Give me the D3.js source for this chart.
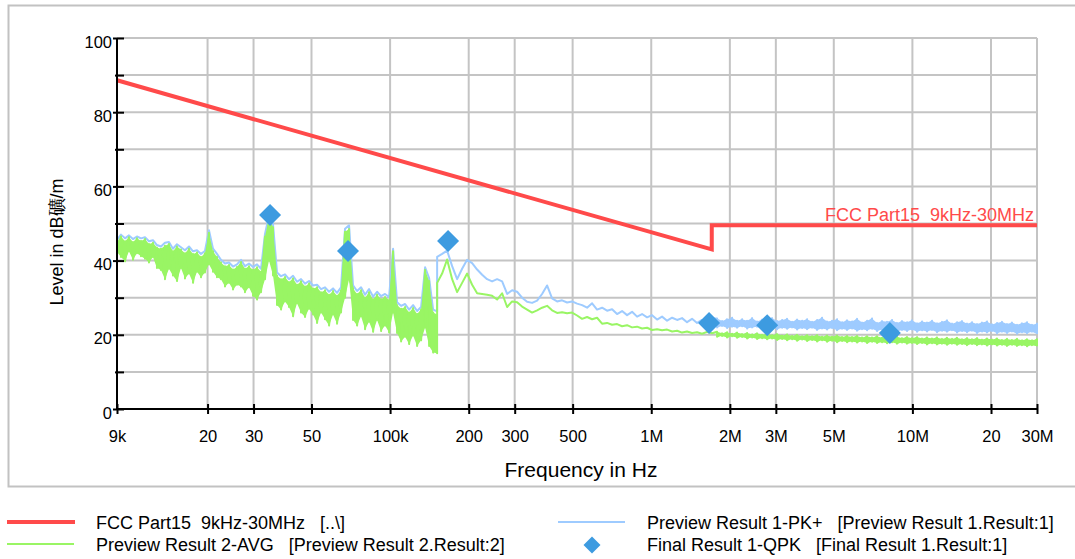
<!DOCTYPE html>
<html>
<head>
<meta charset="utf-8">
<script src="https://cdnjs.cloudflare.com/ajax/libs/d3/7.8.5/d3.min.js"></script>
<style>
  html, body { margin: 0; padding: 0; background: #fff; }
  svg { display: block; font-family: "Liberation Sans", Arial, sans-serif; }
  text { white-space: pre; }
</style>
</head>
<body>
<svg id="chart" width="1075" height="559"></svg>
<script>
// ---- data (frequencies in kHz, levels in dBuV/m) ----

const xTickKHz = [9, 20, 30, 50, 100, 200, 300, 500, 1000, 2000, 3000, 5000, 10000, 20000, 30000];
const xTickLabels = ["9k", "20", "30", "50", "100k", "200", "300", "500", "1M", "2M", "3M", "5M", "10M", "20", "30M"];
const yMajor = [0, 20, 40, 60, 80, 100];
const yMinor = [10, 30, 50, 70, 90];

// limit line FCC Part15 9kHz-30MHz
const limitKHz = [9, 1705, 1705, 30000];
const limitLevel = [88.6, 43.0, 49.5, 49.5];

// 9k - 150k: dense noisy sweep, max / min per bin
const noiseKHz = [
  9.00, 9.32, 9.66, 10.00, 10.36, 10.73, 11.12, 11.52, 11.93, 12.36,
  12.80, 13.26, 13.74, 14.23, 14.74, 15.27, 15.82, 16.39, 16.98, 17.59,
  18.22, 18.87, 19.55, 20.25, 20.98, 21.73, 22.51, 23.32, 24.16, 25.03,
  25.93, 26.86, 27.82, 28.82, 29.86, 30.93, 32.04, 33.19, 34.38, 35.62,
  36.90, 38.22, 39.59, 41.01, 42.49, 44.01, 45.59, 47.23, 48.93, 50.69,
  52.51, 54.39, 56.34, 58.37, 60.46, 62.63, 64.88, 67.21, 69.63, 72.13,
  74.72, 77.40, 80.18, 83.06, 86.05, 89.14, 92.34, 95.66, 99.10, 102.66,
  106.35, 110.17, 114.13, 118.23, 122.48, 126.88, 131.44, 136.16, 141.05, 146.12,
  151.37
];
const avgNoiseHi = [
  45.0, 46.5, 45.2, 46.3, 45.0, 46.0, 45.3, 45.8, 44.5, 44.8,
  43.5, 43.2, 44.0, 44.5, 42.5, 43.8, 43.0, 42.0, 43.2, 41.8,
  42.2, 41.0, 42.0, 47.5, 42.5, 41.0, 39.5, 38.5, 38.8, 37.6,
  38.3, 39.6, 37.8, 38.5, 37.5, 38.2, 37.0, 46.5, 51.5, 49.0,
  36.0, 35.0, 35.6, 34.2, 35.2, 33.5, 34.4, 33.0, 33.8, 32.5,
  32.8, 31.5, 32.0, 30.8, 31.8, 30.5, 32.0, 47.8, 48.5, 32.5,
  31.0, 32.0, 30.0, 31.5, 29.5, 30.8, 29.6, 30.2, 29.4, 42.5,
  28.0, 27.0, 27.5, 26.0, 27.2, 25.6, 26.8, 37.5, 34.5, 26.0,
  25.5
];
const avgNoiseLo = [
  42.3, 41.0, 39.8, 42.5, 40.2, 42.0, 41.2, 40.5, 39.5, 41.0,
  38.0, 37.5, 35.0, 37.8, 36.0, 34.5, 38.0, 35.2, 36.5, 34.0,
  37.0, 35.5, 36.8, 39.0, 37.0, 35.5, 35.0, 33.0, 34.0, 32.2,
  33.5, 33.0, 31.5, 32.8, 30.5, 29.5, 31.5, 35.0, 40.0, 36.0,
  28.0, 26.8, 29.0, 27.5, 25.0, 28.5, 26.0, 24.8, 27.0, 25.5,
  23.2, 26.0, 24.2, 22.5, 25.5, 23.0, 26.0, 30.0, 35.0, 24.0,
  22.5, 25.0, 21.5, 23.5, 20.8, 24.0, 21.0, 22.5, 20.6, 26.0,
  20.5, 18.2, 19.5, 17.5, 19.8, 17.0, 18.5, 22.0, 17.0, 15.2,
  15.0
];
const pkNoiseTop = [
  45.6, 47.0, 46.0, 46.8, 45.8, 46.5, 46.0, 46.3, 45.2, 45.5,
  44.2, 43.8, 44.8, 45.0, 43.2, 44.4, 43.6, 42.8, 43.8, 42.5,
  42.8, 41.8, 42.6, 48.2, 43.2, 41.8, 40.2, 39.2, 39.5, 38.4,
  39.0, 40.2, 38.5, 39.2, 38.3, 39.0, 37.8, 47.2, 52.2, 49.8,
  36.8, 35.8, 36.3, 35.0, 35.9, 34.3, 35.0, 33.8, 34.5, 33.3,
  33.5, 32.3, 32.8, 31.6, 32.5, 31.3, 32.8, 48.6, 49.5, 33.3,
  31.8, 32.8, 30.8, 32.3, 30.3, 31.6, 30.4, 31.0, 30.2, 43.2,
  28.8, 27.8, 28.3, 26.8, 28.0, 26.4, 27.5, 38.2, 35.3, 26.8,
  26.3
];

// 150k - 1.7M: smoother sweep
const sweepKHz = [
  151.4, 158.2, 165.3, 172.8, 180.6, 188.7, 197.2, 206.1, 215.4, 225.1,
  235.2, 245.8, 256.9, 268.5, 280.6, 293.2, 306.4, 320.2, 334.6, 349.7,
  365.5, 381.9, 399.1, 417.1, 435.9, 455.6, 476.1, 497.5, 520.0, 543.4,
  567.9, 593.5, 620.2, 648.2, 677.4, 707.9, 739.8, 773.1, 808.0, 844.4,
  882.4, 922.2, 963.8, 1007, 1053, 1100, 1150, 1202, 1256, 1312,
  1371, 1433, 1498, 1565, 1636, 1710
];
const pkSweep = [
  41.0, 41.8, 42.7, 38.5, 35.0, 37.8, 40.2, 39.3, 37.6, 36.2,
  35.0, 34.4, 35.0, 34.4, 31.0, 32.0, 31.6, 30.0, 28.9, 28.6,
  29.2, 31.0, 33.3, 29.8, 29.0, 29.3, 28.7, 29.0, 28.4, 28.0,
  27.3, 28.5, 26.8, 27.3, 26.5, 26.9, 25.6, 26.4, 25.3, 26.2,
  24.9, 25.6, 24.7, 25.3, 24.1, 24.9, 23.8, 24.6, 24.0, 24.5,
  23.4, 24.3, 23.2, 24.0, 23.3, 24.4
];
const avgSweep = [
  34.0, 36.5, 40.3, 35.0, 31.5, 34.0, 36.5, 33.5, 31.2, 31.0,
  30.8, 30.5, 29.5, 31.2, 27.5, 29.0, 28.8, 27.6, 26.8, 26.0,
  26.6, 27.3, 27.8, 26.6, 25.9, 26.1, 25.8, 26.0, 25.2, 24.3,
  24.8, 24.2, 24.6, 23.0, 23.2, 22.7, 22.9, 22.3, 22.6, 22.0,
  22.2, 21.7, 21.9, 21.3, 21.5, 21.2, 21.4, 20.9, 21.1, 20.6,
  20.9, 20.5, 20.7, 20.3, 20.8, 20.4
];

// 1.7M - 30M: noisy tail, max / min per bin
const tailKHz = [
  1787, 1867, 1951, 2039, 2131, 2227, 2328, 2433, 2542, 2657,
  2776, 2901, 3032, 3169, 3311, 3461, 3617, 3780, 3950, 4128,
  4314, 4508, 4711, 4923, 5145, 5377, 5619, 5872, 6137, 6413,
  6702, 7004, 7320, 7650, 7994, 8354, 8731, 9124, 9535, 9965,
  10414, 10883, 11373, 11886, 12421, 12981, 13566, 14177, 14816, 15484,
  16181, 16910, 17673, 18469, 19301, 20171, 21080, 22030, 23022, 24060,
  25144, 26277, 27461, 28698, 29992
];
const pkTailHi = [
  24.4, 23.7, 24.2, 24.6, 23.8, 24.2, 23.8, 24.5, 23.6, 24.1,
  23.9, 24.5, 23.7, 24.0, 24.3, 23.5, 24.1, 23.8, 24.2, 23.5,
  24.0, 24.6, 23.6, 23.8, 24.2, 23.4, 23.9, 23.6, 24.3, 23.3,
  23.8, 24.4, 23.2, 23.7, 23.5, 24.0, 23.2, 23.7, 23.4, 23.9,
  23.1, 23.6, 23.3, 23.8, 23.1, 23.5, 23.9, 23.0, 23.4, 23.7,
  23.0, 23.4, 22.9, 23.3, 23.6, 22.8, 23.2, 23.5, 22.9, 23.3,
  22.7, 23.1, 23.4, 22.7, 23.0
];
const pkTailLo = [
  22.0, 22.4, 21.8, 22.2, 21.9, 22.3, 21.7, 22.0, 22.2, 21.6,
  21.9, 22.1, 21.5, 21.9, 21.6, 22.0, 21.4, 21.8, 21.5, 21.9,
  21.3, 21.7, 21.4, 21.8, 21.2, 21.6, 21.3, 21.7, 21.1, 21.5,
  21.2, 21.6, 21.0, 21.4, 21.1, 21.5, 20.9, 21.3, 21.0, 21.4,
  20.8, 21.2, 20.9, 21.3, 20.7, 21.1, 20.8, 21.2, 20.6, 21.0,
  20.7, 21.1, 20.5, 20.9, 20.6, 21.0, 20.4, 20.8, 20.5, 20.9,
  20.3, 20.7, 20.4, 20.8, 20.2
];
const avgTailHi = [
  20.8, 20.4, 20.7, 20.3, 20.6, 20.2, 20.5, 20.1, 20.4, 20.0,
  20.3, 19.9, 20.2, 19.8, 20.1, 19.7, 20.0, 19.6, 19.9, 19.6,
  19.9, 19.5, 19.8, 19.5, 19.8, 19.4, 19.7, 19.4, 19.7, 19.3,
  19.6, 19.3, 19.6, 19.2, 19.5, 19.2, 19.5, 19.1, 19.4, 19.1,
  19.4, 19.0, 19.3, 19.0, 19.3, 18.9, 19.2, 18.9, 19.2, 18.8,
  19.1, 18.8, 19.1, 18.7, 19.0, 18.7, 19.0, 18.6, 18.9, 18.6,
  18.9, 18.5, 18.8, 18.5, 18.8
];
const avgTailLo = [
  19.5, 19.7, 19.3, 19.6, 19.2, 19.4, 19.0, 19.3, 18.9, 19.1,
  18.8, 19.0, 18.6, 18.9, 18.5, 18.8, 18.4, 18.7, 18.3, 18.6,
  18.2, 18.5, 18.1, 18.4, 18.0, 18.3, 18.0, 18.2, 17.9, 18.2,
  17.8, 18.1, 17.8, 18.0, 17.7, 18.0, 17.6, 17.9, 17.6, 17.8,
  17.5, 17.8, 17.4, 17.7, 17.4, 17.6, 17.3, 17.6, 17.3, 17.5,
  17.2, 17.5, 17.2, 17.4, 17.1, 17.4, 17.1, 17.3, 17.0, 17.3,
  17.0, 17.2, 16.9, 17.2, 16.9
];

// final QPK results
const qpkKHz = [34.7, 69.0, 166.7, 1665, 2780, 8200];
const qpkLevel = [52.3, 42.6, 45.3, 23.2, 22.6, 20.5];

// ---- chart ----

const COLORS = {
  limit: '#ff4a4a',
  pk: '#9ecbff',
  avg: '#99f564',
  qpk: '#3d9be0',
  grid: '#c4c4c4'
};
const FONT = '"Liberation Sans", Arial, sans-serif';

const svg = d3.select('#chart');
const x = d3.scaleLog().domain([9, 30000]).range([117, 1037]);
const y = d3.scaleLinear().domain([0, 100]).range([409, 38]);

// outer frame
svg.append('rect')
  .attr('x', 8.5).attr('y', 5.5)
  .attr('width', 1080).attr('height', 481)
  .attr('fill', 'none')
  .attr('stroke', '#c2c2c2')
  .attr('stroke-width', 2);

// grid
const grid = svg.append('g');
grid.selectAll('line.v')
  .data(xTickKHz.slice(1))
  .join('line')
  .attr('x1', d => x(d)).attr('x2', d => x(d))
  .attr('y1', y(100)).attr('y2', y(0))
  .attr('stroke', COLORS.grid).attr('stroke-width', 2);
grid.selectAll('line.h')
  .data(d3.range(10, 101, 10))
  .join('line')
  .attr('x1', x(9)).attr('x2', x(30000))
  .attr('y1', d => y(d)).attr('y2', d => y(d))
  .attr('stroke', COLORS.grid).attr('stroke-width', 2);

// build traces
function zigzag(freqs, hi, lo) {
  const pts = [];
  freqs.forEach((f, i) => {
    pts.push([f, hi[i]]);
    pts.push([f, lo[i]]);
  });
  return pts;
}
const pairs = (freqs, levels) => freqs.map((f, i) => [f, levels[i]]);
const bands = (freqs, hi, lo) => freqs.map((f, i) => ({ f, hi: hi[i], lo: lo[i] }));

const pkPoints = [
  ...pairs(noiseKHz, pkNoiseTop),
  ...pairs(sweepKHz, pkSweep),
  ...zigzag(tailKHz, pkTailHi, pkTailLo)
];
const avgPoints = [
  ...zigzag(noiseKHz, avgNoiseHi, avgNoiseLo),
  ...pairs(sweepKHz, avgSweep),
  ...zigzag(tailKHz, avgTailHi, avgTailLo)
];

const line = d3.line().x(d => x(d[0])).y(d => y(d[1]));
const band = d3.area()
  .x(d => x(d.f))
  .y0(d => y(d.lo))
  .y1(d => y(d.hi));
const plot = svg.append('g');

// peak trace
plot.append('path')
  .datum(bands(tailKHz, pkTailHi, pkTailLo))
  .attr('d', band)
  .attr('fill', COLORS.pk);
plot.append('path')
  .datum(pkPoints)
  .attr('d', line)
  .attr('fill', 'none')
  .attr('stroke', COLORS.pk)
  .attr('stroke-width', 2)
  .attr('stroke-linejoin', 'round');

// average trace
plot.append('path')
  .datum(bands(noiseKHz, avgNoiseHi, avgNoiseLo))
  .attr('d', band)
  .attr('fill', COLORS.avg);
plot.append('path')
  .datum(bands(tailKHz, avgTailHi, avgTailLo))
  .attr('d', band)
  .attr('fill', COLORS.avg);
plot.append('path')
  .datum(avgPoints)
  .attr('d', line)
  .attr('fill', 'none')
  .attr('stroke', COLORS.avg)
  .attr('stroke-width', 2)
  .attr('stroke-linejoin', 'round');

// limit
plot.append('path')
  .datum(pairs(limitKHz, limitLevel))
  .attr('d', line)
  .attr('fill', 'none')
  .attr('stroke', COLORS.limit)
  .attr('stroke-width', 4);

plot.append('text')
  .attr('x', 1034).attr('y', 221)
  .attr('text-anchor', 'end')
  .attr('font-size', 18)
  .attr('fill', COLORS.limit)
  .text('FCC Part15  9kHz-30MHz');

// diamonds
const diamond = r => `M0,${-r}L${r},0L0,${r}L${-r},0Z`;
plot.selectAll('path.qpk')
  .data(pairs(qpkKHz, qpkLevel))
  .join('path')
  .attr('class', 'qpk')
  .attr('d', diamond(11))
  .attr('transform', d => `translate(${x(d[0])},${y(d[1])})`)
  .attr('fill', COLORS.qpk);

// axes
const xAxis = svg.append('g')
  .attr('transform', `translate(0,${y(0)})`)
  .call(d3.axisBottom(x)
    .tickValues(xTickKHz)
    .tickFormat((d, i) => xTickLabels[i])
    .tickSize(6)
    .tickPadding(0));
xAxis.select('.domain').remove();
xAxis.selectAll('.tick line')
  .attr('y1', -5).attr('y2', 5)
  .attr('stroke', '#000').attr('stroke-width', 2);
xAxis.selectAll('.tick text')
  .attr('y', 33).attr('dy', 0)
  .attr('font-size', 16.5).attr('fill', '#000')
  .attr('font-family', FONT);

const yAxis = svg.append('g')
  .attr('transform', `translate(${x(9)},0)`)
  .call(d3.axisLeft(y).tickValues(yMajor).tickSize(4).tickPadding(0));
yAxis.select('.domain').remove();
yAxis.selectAll('.tick line')
  .attr('x1', -4).attr('x2', 7)
  .attr('stroke', '#000').attr('stroke-width', 2);
yAxis.selectAll('.tick text')
  .attr('x', -5).attr('dy', 9)
  .attr('font-size', 16.5).attr('fill', '#000')
  .attr('font-family', FONT);

const yMinorAxis = svg.append('g')
  .attr('transform', `translate(${x(9)},0)`)
  .call(d3.axisLeft(y).tickValues(yMinor).tickFormat('').tickSize(2));
yMinorAxis.select('.domain').remove();
yMinorAxis.selectAll('.tick line')
  .attr('x1', -2).attr('x2', 7)
  .attr('stroke', '#000').attr('stroke-width', 2);

// axis lines
svg.append('line')
  .attr('x1', x(9)).attr('x2', x(9))
  .attr('y1', y(100)).attr('y2', y(0) + 1)
  .attr('stroke', '#000').attr('stroke-width', 2);
svg.append('line')
  .attr('x1', x(9) - 1).attr('x2', x(30000))
  .attr('y1', y(0)).attr('y2', y(0))
  .attr('stroke', '#000').attr('stroke-width', 2);

// axis titles
svg.append('text')
  .attr('x', 581).attr('y', 477)
  .attr('text-anchor', 'middle')
  .attr('font-size', 21)
  .text('Frequency in Hz');

svg.append('text')
  .attr('transform', 'translate(63,242) rotate(-90)')
  .attr('text-anchor', 'middle')
  .attr('font-size', 18)
  .text('Level in dB礦/m');

// legend
const legend = svg.append('g').attr('font-size', 18);
legend.append('line')
  .attr('x1', 7).attr('x2', 75).attr('y1', 522).attr('y2', 522)
  .attr('stroke', COLORS.limit).attr('stroke-width', 4);
legend.append('text').attr('x', 96).attr('y', 529)
  .text('FCC Part15  9kHz-30MHz   [..\\]');

legend.append('line')
  .attr('x1', 7).attr('x2', 74).attr('y1', 544).attr('y2', 544)
  .attr('stroke', COLORS.avg).attr('stroke-width', 2);
legend.append('text').attr('x', 96).attr('y', 551)
  .text('Preview Result 2-AVG   [Preview Result 2.Result:2]');

legend.append('line')
  .attr('x1', 558).attr('x2', 625).attr('y1', 522).attr('y2', 522)
  .attr('stroke', COLORS.pk).attr('stroke-width', 2);
legend.append('text').attr('x', 647).attr('y', 529)
  .text('Preview Result 1-PK+   [Preview Result 1.Result:1]');

legend.append('path')
  .attr('d', diamond(8.5))
  .attr('transform', 'translate(592,545)')
  .attr('fill', COLORS.qpk);
legend.append('text').attr('x', 647).attr('y', 551)
  .text('Final Result 1-QPK   [Final Result 1.Result:1]');
</script>
</body>
</html>
